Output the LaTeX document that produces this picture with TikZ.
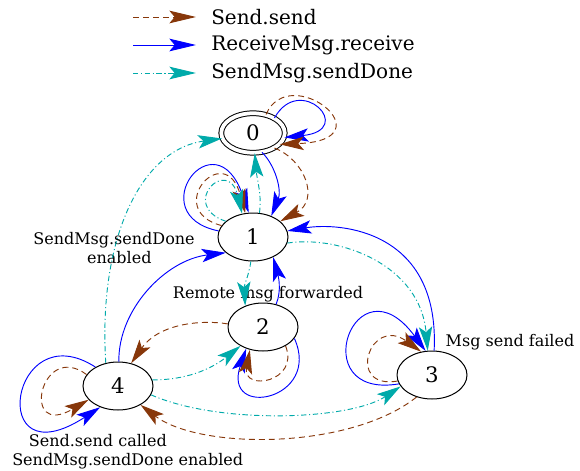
\documentclass[tikz,border=0pt]{standalone}
\usepackage{fontspec}
\setmainfont{DejaVu Serif}
\usetikzlibrary{shapes.geometric,arrows.meta}
\definecolor{sbrown}{RGB}{135,55,10}
\definecolor{scyan}{RGB}{0,170,170}
\definecolor{sblue}{RGB}{0,0,255}
\tikzset{
  st/.style={ellipse,draw,line width=0.75pt,minimum width=52.5pt,minimum height=36pt,inner sep=0pt,font=\fontsize{16}{18}\selectfont},
  snd/.style={draw=sbrown,line width=0.7pt,dash pattern=on 4.5pt off 3pt,-{Stealth[length=18pt,width=10pt,inset=4pt,color=sbrown]}},
  rcv/.style={draw=sblue,line width=0.7pt,-{Stealth[length=18pt,width=10pt,inset=4pt,color=sblue]}},
  dn/.style={draw=scyan,line width=0.7pt,dash pattern=on 4pt off 2pt on 0.8pt off 2pt,-{Stealth[length=18pt,width=10pt,inset=4pt,color=scyan]}},
  lbl/.style={font=\fontsize{12}{14}\selectfont,inner sep=0pt},
  lgt/.style={font=\fontsize{15}{17}\selectfont,inner sep=0pt,anchor=west},
}
\begin{document}
\begin{tikzpicture}[x=0.75pt,y=-0.75pt]
\useasboundingbox (0,0) rectangle (580,470);
% legend
\coordinate (L1a) at (133,17); \coordinate (L1b) at (196,17);
\coordinate (L2a) at (133,45); \coordinate (L2b) at (196,45);
\coordinate (L3a) at (133,73); \coordinate (L3b) at (196,73);
\draw[snd,-{Stealth[length=20pt,width=9.5pt,inset=4pt,color=sbrown]}] (L1a) -- (L1b);
\draw[rcv,-{Stealth[length=20pt,width=9.5pt,inset=4pt,color=sblue]}] (L2a) -- (L2b);
\draw[dn,-{Stealth[length=20pt,width=9.5pt,inset=4pt,color=scyan]}] (L3a) -- (L3b);
\node[lgt] (T1) at (211,17) {Send.send};
\node[lgt] (T2) at (211,45) {ReceiveMsg.receive};
\node[lgt] (T3) at (211,73) {SendMsg.sendDone};
% states
\node[st,double,double distance=2.8pt,minimum width=47.6pt,minimum height=29.6pt] (N0) at (253,133) {0};
\node[st] (N1) at (253,237) {1};
\node[st] (N2) at (263,327) {2};
\node[st] (N3) at (432,375) {3};
\node[st] (N4) at (118,386) {4};
% labels
\node[lbl,align=center] (La) at (114,248) {SendMsg.sendDone\\\hspace*{8pt}enabled};
\node[lbl] (Lb) at (268,294) {Remote msg forwarded};
\node[lbl] (Lc) at (510,342) {Msg send failed};
\node[lbl,align=left,anchor=north west] (Ld) at (12,434) {\hspace*{12.5pt}Send.send called\\SendMsg.sendDone enabled};
% edges of 0
\draw[rcv] (N0.35) .. controls (300,72) and (357,130) .. (N0.-8);
\draw[snd] (N0.55) .. controls (290,60) and (390,140) .. (N0.-23);
\draw[snd] (N0.-35) .. controls (305,160) and (320,200) .. (N1.30);
\draw[rcv] (N0.-65) .. controls (275,165) and (282,190) .. (N1.49);
\draw[dn] (N1.75) .. controls (262,195) and (257,180) .. (N0.-85);
% loops of 1
\draw[rcv] (N1.170) .. controls (140,215) and (215,115) .. (N1.100);
\draw[snd] (N1.160) .. controls (162,210) and (225,138) .. (N1.108);
\draw[dn] (N1.150) .. controls (178,205) and (228,155) .. (N1.115);
% 4 -> 0, 4 -> 1
\draw[dn] (N4.118) .. controls (98,240) and (140,150) .. (N0.190);
\draw[rcv] (N4.88) .. controls (118,310) and (165,260) .. (N1.210);
% 2 <-> 4
\draw[snd] (N2.175) .. controls (205,320) and (160,322) .. (N4.60);
\draw[dn] (N4.10) .. controls (185,380) and (210,370) .. (N2.220);
% loops of 2
\draw[rcv] (N2.-20) .. controls (322,400) and (222,420) .. (N2.232);
\draw[snd] (N2.-40) .. controls (300,382) and (242,392) .. (N2.240);
% 1 <-> 2
\draw[dn] (N1.-95) .. controls (249,275) and (244,285) .. (N2.130);
\draw[rcv] (N2.60) .. controls (282,290) and (278,275) .. (N1.-45);
% 1 <-> 3
\draw[rcv] (N3.85) .. controls (440,230) and (340,222) .. (N1.10);
\draw[dn] (N1.-10) .. controls (340,235) and (420,265) .. (N3.100);
% loops of 3
\draw[rcv] (N3.195) .. controls (303,400) and (355,255) .. (N3.105);
\draw[snd] (N3.190) .. controls (345,390) and (370,315) .. (N3.115);
% 3 <-> 4
\draw[dn] (N4.-15) .. controls (220,425) and (350,420) .. (N3.200);
\draw[snd] (N3.235) .. controls (350,450) and (200,450) .. (N4.-40);
% loops of 4
\draw[rcv] (N4.140) .. controls (10,312) and (-15,482) .. (N4.230);
\draw[snd] (N4.160) .. controls (40,340) and (20,440) .. (N4.205);
\end{tikzpicture}
\end{document}
